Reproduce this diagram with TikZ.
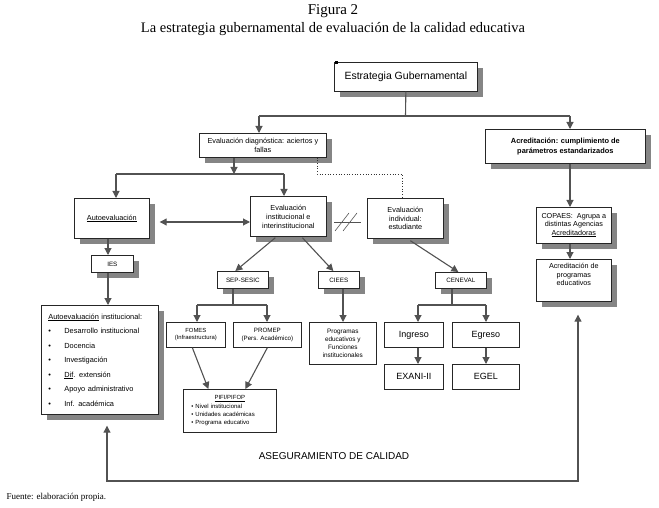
\documentclass[tikz,border=0pt]{standalone}
\usepackage{fontspec}
\setmainfont{Liberation Serif}
\setsansfont{Liberation Sans}
\usetikzlibrary{arrows.meta,shadows,calc}
\newcommand\fsz[2]{\fontsize{#1}{#2}\selectfont}
\begin{document}
\begin{tikzpicture}[x=1pt,y=-1pt,
  box/.style={draw=black!85, line width=0.7pt, fill=white, inner sep=1pt, align=center, anchor=north west, font=\sffamily\fsz{7.3}{8.6}},
  sbox/.style={box, drop shadow={shadow xshift=6pt, shadow yshift=-6pt, fill=black!48, opacity=1}},
  sz/.style 2 args={minimum width=#1pt, minimum height=#2pt},
  conn/.style={draw=black!68, line width=1.1pt},
  arr/.style={conn, -{Triangle[width=7pt,length=7pt]}},
  darr/.style={conn, {Triangle[width=7pt,length=7pt]}-{Triangle[width=7pt,length=7pt]}},
  dotl/.style={draw=black!80, line width=0.7pt, dotted},
  big/.style={font=\sffamily\fsz{9}{11}},
  tiny/.style={font=\sffamily\fsz{6.3}{7.5}},
]
\useasboundingbox (0,0) rectangle (659,508);

% titles
\node[font=\rmfamily\fsz{15}{17}] (fig) at (333,11) {Figura 2};
\node[font=\rmfamily\fsz{14.5}{17}] (sub) at (333,29) {La estrategia gubernamental de evaluación de la calidad educativa};

% boxes
\node[sbox, sz={143}{29}, font=\sffamily\fsz{10.5}{12}] (estr) at (334,62) {Estrategia Gubernamental};
\fill[black] (335,61) rectangle (338,64);
\node[sbox, sz={127}{24}] (diag) at (199,133) {Evaluación diagnóstica: aciertos y\\ fallas};
\node[sbox, sz={160}{34}, font=\sffamily\bfseries\fsz{7.4}{9.5}] (acred) at (485,129) {Acreditación: cumplimiento de\\ parámetros estandarizados};
\node[sbox, sz={75}{40}] (autoev) at (74,198) {\underline{Autoevaluación}};
\node[sbox, sz={76}{40}, font=\sffamily\fsz{7.3}{9}] (evinst) at (250,196) {Evaluación\\ institucional e\\ interinstitucional};
\node[sbox, sz={76}{40}] (evind) at (367,198) {Evaluación\\ individual:\\ estudiante};
\node[sbox, sz={42}{17}, tiny] (ies) at (91,255) {IES};
\node[sbox, sz={117}{109}, align=left, inner xsep=7pt, text width=103pt, font=\sffamily\fsz{7.4}{14.5}] (autoinst) at (41,305)
  {\underline{Autoevaluación} institucional:\\
   \makebox[16pt][l]{\textbullet}Desarrollo institucional\\
   \makebox[16pt][l]{\textbullet}Docencia\\
   \makebox[16pt][l]{\textbullet}Investigación\\
   \makebox[16pt][l]{\textbullet}\underline{Dif}. extensión\\
   \makebox[16pt][l]{\textbullet}Apoyo administrativo\\
   \makebox[16pt][l]{\textbullet}Inf. académica};
\node[sbox, sz={51}{17}, tiny] (sep) at (217,271) {SEP-SESIC};
\node[sbox, sz={41}{17}, tiny] (ciees) at (318,271) {CIEES};
\node[sbox, sz={51}{16}, tiny] (ceneval) at (435,272) {CENEVAL};
\node[box, sz={59}{25}, font=\sffamily\fsz{5.9}{7}] (fomes) at (166,322) {FOMES\\ (Infraestructura)};
\node[box, sz={68}{25}, font=\sffamily\fsz{6.2}{7.5}] (promep) at (233,322) {PROMEP\\ (Pers. Académico)};
\node[box, sz={93}{43}, align=left, inner xsep=8pt, text width=77pt, font=\sffamily\fsz{6}{8}] (pifi) at (183,389)
  {\makebox[77pt][c]{\underline{PIFI/PIFOP}}\\[1pt]
   \textbullet\ Nivel institucional\\
   \textbullet\ Unidades académicas\\
   \textbullet\ Programa educativo};
\node[box, sz={67}{42}, font=\sffamily\fsz{6.4}{7.8}] (prog) at (309,322) {Programas\\ educativos y\\ Funciones\\ institucionales};
\node[box, sz={59}{25}, big] (ingreso) at (384,322) {Ingreso};
\node[box, sz={67}{25}, big] (egreso) at (452,322) {Egreso};
\node[box, sz={59}{25}, big] (exani) at (384,364) {EXANI-II};
\node[box, sz={67}{25}, big] (egel) at (452,364) {EGEL};
\node[sbox, sz={75}{36}, font=\sffamily\fsz{7.2}{8.3}] (copaes) at (536,207) {COPAES:~ Agrupa a\\ distintas Agencias\\ \underline{Acreditadoras}};
\node[sbox, sz={75}{42}, font=\sffamily\fsz{7.2}{8.6}] (acprog) at (536,259) {Acreditación de\\ programas\\ educativos\\[3pt]};

% connectors
\coordinate (j1) at (405.5,116);
\coordinate (j1l) at (259,116);
\coordinate (j1r) at (570,116);
\draw[conn] (estr.south) -- (j1);
\draw[conn] (j1l) -- (j1r);
\draw[arr] (j1l) -- (diag.north -| j1l);
\draw[arr] (j1r) -- (acred.north -| j1r);

\coordinate (j2) at (234,174);
\coordinate (j2l) at (116,174);
\coordinate (j2r) at (284,174);
\draw[arr] (diag.south -| j2) -- (j2);
\draw[conn] (j2l) -- (j2r);
\draw[arr] (j2l) -- (autoev.north -| j2l);
\draw[arr] (j2r) -- (evinst.north -| j2r);

\coordinate (yd) at (0,222);
\draw[darr] ($(autoev.east |- yd)+(10,0)$) -- (evinst.west |- yd);

% break symbol
\draw[draw=black!68, line width=0.6pt] (334,222) -- (361,222);
\draw[draw=black!68, line width=0.6pt] (335,231) -- (349,213);
\draw[draw=black!68, line width=0.6pt] (343,231) -- (357,213);

\coordinate (dt) at (317,174);
\coordinate (dt2) at (402,174);
\draw[dotl] (diag.south -| dt) -- (dt) -- (dt2) -- (evind.north -| dt2);

\coordinate (xies) at (108,0);
\draw[arr] (autoev.south -| xies) -- (ies.north -| xies);
\draw[arr] (ies.south -| xies) -- (autoinst.north -| xies);

\draw[arr] ($(evinst.south)+(-13,1)$) -- ($(sep.north)+(-7.5,0)$);
\draw[arr] ($(evinst.south)+(14,1)$) -- ($(ciees.north)+(-5.5,0)$);
\draw[arr] ($(evind.south)+(5,2)$) -- ($(ceneval.north)+(-2.5,0)$);

\coordinate (j4) at (233,305);
\coordinate (j4l) at (197,305);
\coordinate (j4r) at (267,305);
\draw[conn] (sep.south -| j4) -- (j4);
\draw[conn] (j4l) -- (j4r);
\draw[arr] (j4l) -- (fomes.north -| j4l);
\draw[arr] (j4r) -- (promep.north -| j4r);
\draw[arr] ($(fomes.south)+(-3.5,0)$) -- ($(pifi.north)+(-21.5,0)$);
\draw[arr] (promep.south) -- ($(pifi.north)+(15.5,0)$);

\coordinate (xc) at (343,0);
\draw[arr] (ciees.south -| xc) -- (prog.north -| xc);

\coordinate (j5) at (452,305);
\coordinate (j5l) at (418,305);
\coordinate (j5r) at (486,305);
\draw[conn] (ceneval.south -| j5) -- (j5);
\draw[conn] (j5l) -- (j5r);
\draw[arr] (j5l) -- (ingreso.north -| j5l);
\draw[arr] (j5r) -- (egreso.north -| j5r);
\draw[arr] (ingreso.south -| j5l) -- (exani.north -| j5l);
\draw[arr] (egreso.south -| j5r) -- (egel.north -| j5r);

\coordinate (xr) at (570,0);
\draw[arr] (acred.south -| xr) -- (copaes.north -| xr);
\draw[arr] (copaes.south -| xr) -- (acprog.north -| xr);

\coordinate (b1) at (107,481);
\coordinate (b2) at (578,481);
\draw[darr] ($(autoinst.south -| b1)+(0,11)$) -- (b1) -- (b2) -- ($(acprog.south -| b2)+(0,13)$);

\node[font=\sffamily\fsz{10}{12}] (aseg) at (334,456) {ASEGURAMIENTO DE CALIDAD};
\node[anchor=west, font=\rmfamily\fsz{9}{11}] (fuente) at (3,497) {Fuente: elaboración propia.};
\end{tikzpicture}
\end{document}
